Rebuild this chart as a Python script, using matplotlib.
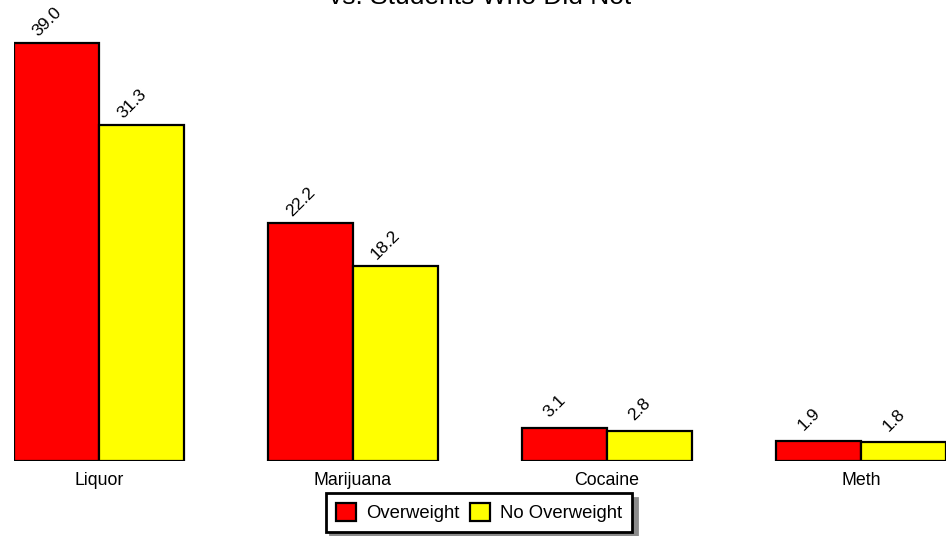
import numpy as np
import matplotlib
matplotlib.use("Agg")
import matplotlib.pyplot as plt

plt.rcParams['font.family'] = ['Liberation Sans', 'DejaVu Sans']

categories = ["Liquor", "Marijuana", "Cocaine", "Meth"]
overweight = [39.0, 22.2, 3.1, 1.9]
no_overweight = [31.3, 18.2, 2.8, 1.8]
series_names = ["Overweight", "No Overweight"]
title = "vs. Students Who Did Not"

x = np.arange(len(categories))
w = 0.3346

fig = plt.figure(figsize=(9.49, 5.36), dpi=100)
ax = fig.add_axes([14 / 949, 75 / 536, 932 / 949, 461 / 536])

b1 = ax.bar(x - w / 2, overweight, w, color="#ff0000", edgecolor="black",
            linewidth=1.6, label=series_names[0])
b2 = ax.bar(x + w / 2, no_overweight, w, color="#ffff00", edgecolor="black",
            linewidth=1.6, label=series_names[1])

# value labels, rotated 45 degrees above each bar
for bars, vals in ((b1, overweight), (b2, no_overweight)):
    for rect, v in zip(bars, vals):
        ax.annotate(f"{v:.1f}", (rect.get_x() + rect.get_width() / 2, rect.get_height()),
                    xytext=(-7.0, 15.5), textcoords="offset points",
                    ha="center", va="center", rotation=45,
                    rotation_mode="anchor", fontsize=12.5)

ax.set_xlim(-w, len(categories) - 1 + w)
ax.set_ylim(0, 43.0)
ax.set_xticks(x)
ax.set_xticklabels(categories, fontsize=12.8)
ax.tick_params(axis="x", length=0, pad=8)
ax.set_yticks([])
for s in ax.spines.values():
    s.set_visible(False)

fig.text(480 / 949, 1 - 4.5 / 536, title, ha="center", va="baseline", fontsize=19)

leg = fig.legend(handles=[b1, b2], loc="center", bbox_to_anchor=(479 / 949, 1 - 512.5 / 536),
                 ncol=2, fontsize=13.3, frameon=True, fancybox=False,
                 edgecolor="black", framealpha=1,
                 handlelength=1.08, handleheight=1.13, handletextpad=0.54,
                 columnspacing=0.6, borderpad=0.55, borderaxespad=0,
                 shadow={'ox': 3.5, 'oy': -3.5, 'color': '#8c8c8c', 'alpha': 1})
leg.get_frame().set_linewidth(2)
for h in leg.legend_handles:
    h.set_linewidth(1.6)

fig.savefig("out.png", dpi=100)
